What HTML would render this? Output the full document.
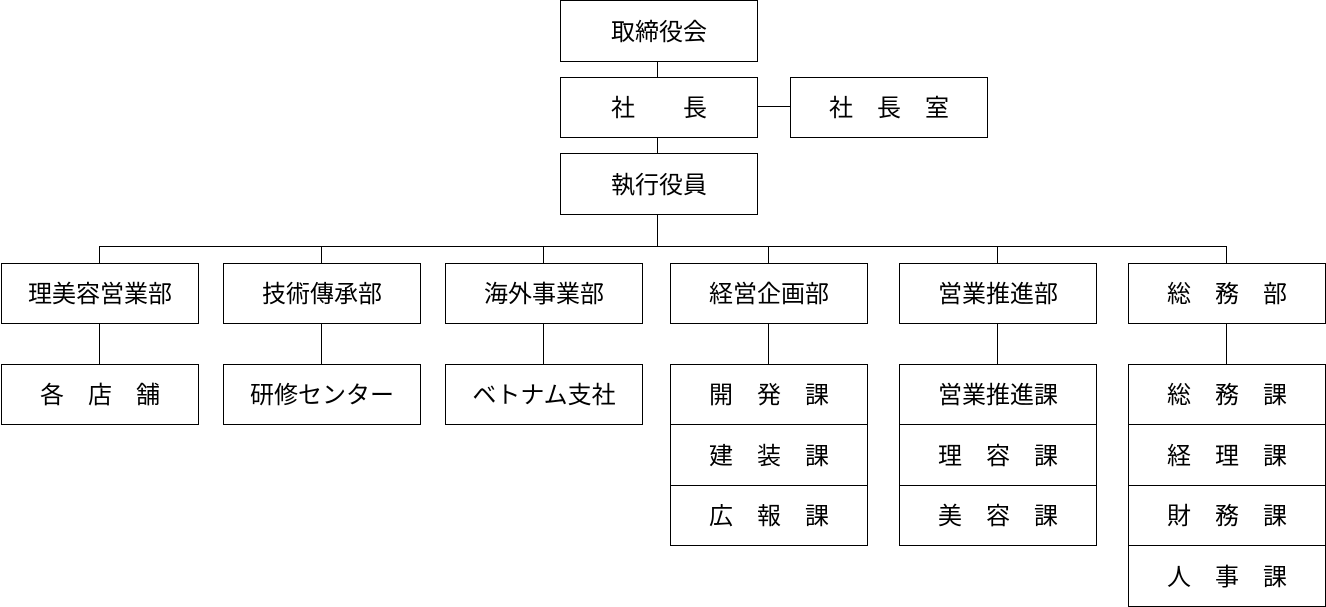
<!DOCTYPE html>
<html><head><meta charset="utf-8"><style>
body{margin:0;width:1326px;height:607px;background:#fff;position:relative;overflow:hidden;font-family:"Liberation Sans","Noto Sans CJK JP",sans-serif;}
.b{position:absolute;box-sizing:border-box;border:1px solid #000;display:flex;align-items:center;justify-content:center;font-size:24px;color:#000;white-space:pre;background:#fff;padding-bottom:4px;}
.l{position:absolute;background:#000;}
</style></head><body>
<div class="l" style="left:657px;top:60px;width:1px;height:187px"></div>
<div class="l" style="left:757px;top:106px;width:33px;height:1px"></div>
<div class="l" style="left:99px;top:246px;width:1128px;height:1px"></div>
<div class="l" style="left:99px;top:246px;width:1px;height:118px"></div>
<div class="l" style="left:321px;top:246px;width:1px;height:118px"></div>
<div class="l" style="left:543px;top:246px;width:1px;height:118px"></div>
<div class="l" style="left:768px;top:246px;width:1px;height:118px"></div>
<div class="l" style="left:997px;top:246px;width:1px;height:118px"></div>
<div class="l" style="left:1226px;top:246px;width:1px;height:118px"></div>

<div class="b" style="left:560px;top:0;width:198px;height:62px">取締役会</div>
<div class="b" style="left:560px;top:77px;width:198px;height:61px">社　　長</div>
<div class="b" style="left:790px;top:77px;width:198px;height:61px">社　長　室</div>
<div class="b" style="left:560px;top:153px;width:198px;height:62px">執行役員</div>

<div class="b" style="left:1px;top:263px;width:198px;height:61px">理美容営業部</div>
<div class="b" style="left:223px;top:263px;width:198px;height:61px">技術傳承部</div>
<div class="b" style="left:445px;top:263px;width:198px;height:61px">海外事業部</div>
<div class="b" style="left:670px;top:263px;width:198px;height:61px">経営企画部</div>
<div class="b" style="left:899px;top:263px;width:198px;height:61px">営業推進部</div>
<div class="b" style="left:1128px;top:263px;width:198px;height:61px">総　務　部</div>

<div class="b" style="left:1px;top:364px;width:198px;height:61px">各　店　舗</div>
<div class="b" style="left:223px;top:364px;width:198px;height:61px">研修センター</div>
<div class="b" style="left:445px;top:364px;width:198px;height:61px">ベトナム支社</div>

<div class="b" style="left:670px;top:364px;width:198px;height:61px">開　発　課</div>
<div class="b" style="left:670px;top:424px;width:198px;height:62px">建　装　課</div>
<div class="b" style="left:670px;top:485px;width:198px;height:61px">広　報　課</div>

<div class="b" style="left:899px;top:364px;width:198px;height:61px">営業推進課</div>
<div class="b" style="left:899px;top:424px;width:198px;height:62px">理　容　課</div>
<div class="b" style="left:899px;top:485px;width:198px;height:61px">美　容　課</div>

<div class="b" style="left:1128px;top:364px;width:198px;height:61px">総　務　課</div>
<div class="b" style="left:1128px;top:424px;width:198px;height:62px">経　理　課</div>
<div class="b" style="left:1128px;top:485px;width:198px;height:61px">財　務　課</div>
<div class="b" style="left:1128px;top:545px;width:198px;height:62px">人　事　課</div>
</body></html>
